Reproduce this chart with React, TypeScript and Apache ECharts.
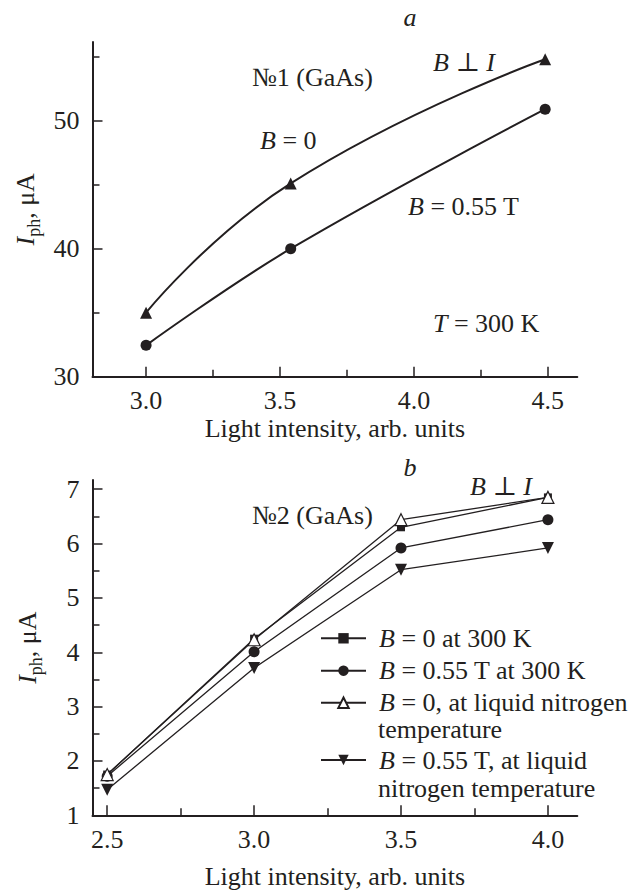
import React, { useEffect, useRef } from "react";
import * as echarts from "echarts";

// ---- Panel a (No.1 GaAs, T = 300 K) ----
const topX = [3.0, 3.54, 4.49];
const topB0 = [35.0, 45.1, 54.8];
const topB055 = [32.45, 40.0, 50.9];
const topXMajor = [3.0, 3.5, 4.0, 4.5];
const topXMinor = [3.25, 3.75, 4.25];
const topYMajor = [30, 40, 50];
const topYMinor = [35, 45, 55];

// ---- Panel b (No.2 GaAs) ----
const botX = [2.5, 3.0, 3.5, 4.0];
const botB0_300 = [1.75, 4.25, 6.3, 6.85];
const botB055_300 = [1.72, 4.01, 5.92, 6.44];
const botB0_N2 = [1.75, 4.23, 6.44, 6.85];
const botB055_N2 = [1.47, 3.71, 5.52, 5.92];
const botXMajor = [2.5, 3.0, 3.5, 4.0];
const botXMinor = [2.75, 3.25, 3.75];
const botYMajor = [1, 2, 3, 4, 5, 6, 7];
const botYMinor = [1.5, 2.5, 3.5, 4.5, 5.5, 6.5];

const legendNames = [
  "B = 0 at 300 K",
  "B = 0.55 T at 300 K",
  "B = 0, at liquid nitrogen",
  "B = 0.55 T, at liquid",
];

const FONT = "'Liberation Serif', 'Times New Roman', 'DejaVu Serif', serif";
const INK = "#231f20";
const FS = 26;

const pair = (xs: number[], ys: number[]) => xs.map((x, i) => [x, ys[i]]);

function axisPair(
  dim: "x" | "y",
  gridIndex: number,
  min: number,
  max: number,
  majors: number[],
  minors: number[],
  name: string,
  nameGap: number,
  fmt: (v: number) => string
) {
  const main: any = {
    type: "value",
    gridIndex,
    min,
    max,
    position: dim === "x" ? "bottom" : "left",
    splitLine: { show: false },
    axisLine: { show: true, onZero: false, lineStyle: { color: INK, width: 2 } },
    axisTick: {
      show: true,
      inside: true,
      length: 10,
      customValues: majors,
      lineStyle: { color: INK, width: 1.5 },
    },
    axisLabel: {
      show: true,
      customValues: majors,
      formatter: fmt,
      fontSize: FS,
      fontFamily: FONT,
      color: INK,
      margin: dim === "x" ? 11 : 13,
    },
    name,
    nameLocation: "middle",
    nameGap,
    nameTextStyle: {
      fontSize: FS,
      fontFamily: FONT,
      color: INK,
      rich: {
        i: { fontSize: FS, fontStyle: "italic", fontFamily: FONT, color: INK, lineHeight: 30 },
        s: { fontSize: 18, fontFamily: FONT, color: INK, lineHeight: 18, padding: [16, 0, 0, 0] },
        n: { fontSize: FS, fontFamily: FONT, color: INK, lineHeight: 30 },
      },
    },
  };
  if (dim === "y") main.nameRotate = 90;
  const minor: any = {
    type: "value",
    gridIndex,
    min,
    max,
    position: dim === "x" ? "bottom" : "left",
    splitLine: { show: false },
    axisLine: { show: false, onZero: false },
    axisTick: {
      show: true,
      inside: true,
      length: 7,
      customValues: minors,
      lineStyle: { color: INK, width: 1.5 },
    },
    axisLabel: { show: false },
  };
  return [main, minor];
}

const richText = {
  i: { fontStyle: "italic", fontSize: FS, fontFamily: FONT, fill: INK, color: INK },
  r: { fontSize: FS, fontFamily: FONT, fill: INK, color: INK },
};

function label(text: string, x: number, y: number, align = "left") {
  return {
    type: "text",
    x,
    y,
    silent: true,
    style: {
      text,
      rich: richText,
      fontSize: FS,
      fontFamily: FONT,
      fill: INK,
      align,
      textAlign: align,
      verticalAlign: "middle",
      textVerticalAlign: "middle",
    },
  };
}

export default function App() {
  const ref = useRef<HTMLDivElement>(null);
  useEffect(() => {
    if (!ref.current) return;
    const chart = echarts.init(ref.current, null, { renderer: "svg" });

    const fmt1 = (v: number) => v.toFixed(1);
    const fmt0 = (v: number) => String(v);
    const yName = "{i|I}{s|ph}{n|, μA}";
    const [tx, txm] = axisPair("x", 0, 2.8, 4.61, topXMajor, topXMinor, "Light intensity, arb. units", 39, fmt1);
    const [ty, tym] = axisPair("y", 0, 30, 56.15, topYMajor, topYMinor, yName, 50, fmt0);
    const [bx, bxm] = axisPair("x", 1, 2.45, 4.1, botXMajor, botXMinor, "Light intensity, arb. units", 48, fmt1);
    const [by, bym] = axisPair("y", 1, 1, 7.17, botYMajor, botYMinor, yName, 50, fmt0);

    const legendRich = {
      b: { fontStyle: "italic", fontSize: FS, fontFamily: FONT, color: INK, padding: [0, 0, 0, 8] },
      r: { fontSize: FS, fontFamily: FONT, color: INK },
    };
    const legendFmt = (name: string) => "{b|B}{r|" + name.slice(1) + "}";
    const legendCenters = [638.3, 670.7, 702.7, 760];
    const legends = legendNames.map((n, i) => ({
      data: [n],
      left: 320,
      top: legendCenters[i] - 13,
      orient: "vertical",
      padding: 0,
      itemWidth: 45,
      itemHeight: 13,
      selectedMode: false,
      formatter: legendFmt,
      textStyle: { fontSize: FS, fontFamily: FONT, color: INK, lineHeight: 26, rich: legendRich },
    }));

    const thin = { color: INK, width: 1.3 };
    const thick = { color: INK, width: 2 };

    chart.setOption({
      animation: false,
      backgroundColor: "#ffffff",
      textStyle: { fontFamily: FONT },
      grid: [
        { left: 92.5, top: 42, width: 484.8, height: 334.7, containLabel: false, outerBoundsMode: "none" },
        { left: 92.5, top: 480, width: 484.8, height: 335.3, containLabel: false, outerBoundsMode: "none" },
      ],
      xAxis: [tx, txm, bx, bxm],
      yAxis: [ty, tym, by, bym],
      legend: legends,
      series: [
        {
          name: "top B0",
          type: "line",
          xAxisIndex: 0,
          yAxisIndex: 0,
          data: pair(topX, topB0),
          smooth: 0.5,
          symbol: "triangle",
          symbolSize: 12,
          lineStyle: thick,
          itemStyle: { color: INK },
        },
        {
          name: "top B055",
          type: "line",
          xAxisIndex: 0,
          yAxisIndex: 0,
          data: pair(topX, topB055),
          smooth: 0.4,
          symbol: "circle",
          symbolSize: 11,
          lineStyle: thick,
          itemStyle: { color: INK },
        },
        {
          name: legendNames[0],
          type: "line",
          xAxisIndex: 2,
          yAxisIndex: 2,
          data: pair(botX, botB0_300),
          symbol: "rect",
          symbolSize: 8,
          lineStyle: thin,
          itemStyle: { color: INK },
        },
        {
          name: legendNames[1],
          type: "line",
          xAxisIndex: 2,
          yAxisIndex: 2,
          data: pair(botX, botB055_300),
          symbol: "circle",
          symbolSize: 11,
          lineStyle: thin,
          itemStyle: { color: INK },
        },
        {
          name: legendNames[2],
          type: "line",
          xAxisIndex: 2,
          yAxisIndex: 2,
          data: pair(botX, botB0_N2),
          symbol: "triangle",
          symbolSize: 12,
          lineStyle: thin,
          itemStyle: { color: "#ffffff", borderColor: INK, borderWidth: 1.2 },
        },
        {
          name: legendNames[3],
          type: "line",
          xAxisIndex: 2,
          yAxisIndex: 2,
          data: pair(botX, botB055_N2),
          symbol: "triangle",
          symbolRotate: 180,
          symbolSize: 12,
          lineStyle: thin,
          itemStyle: { color: INK },
        },
      ],
      graphic: [
        label("{i|a}", 410, 17, "center"),
        label("{r|№1 (GaAs)}", 252, 77),
        label("{i|B}{r| = 0}", 260, 140),
        label("{i|B}{r| ⊥ }{i|I}", 433, 62),
        label("{i|B}{r| = 0.55 T}", 408, 206),
        label("{i|T}{r| = 300 K}", 433, 323),
        label("{i|b}", 410, 467, "center"),
        label("{i|B}{r| ⊥ }{i|I}", 470, 486),
        label("{r|№2 (GaAs)}", 252, 515),
        label("{r|temperature}", 378, 729.3),
        label("{r|nitrogen temperature}", 378, 788.3),
      ],
    });
    return () => chart.dispose();
  }, []);
  return (
    <div
      ref={ref}
      style={{ position: "absolute", left: 0, top: 0, width: 638, height: 890, background: "#fff" }}
    />
  );
}
